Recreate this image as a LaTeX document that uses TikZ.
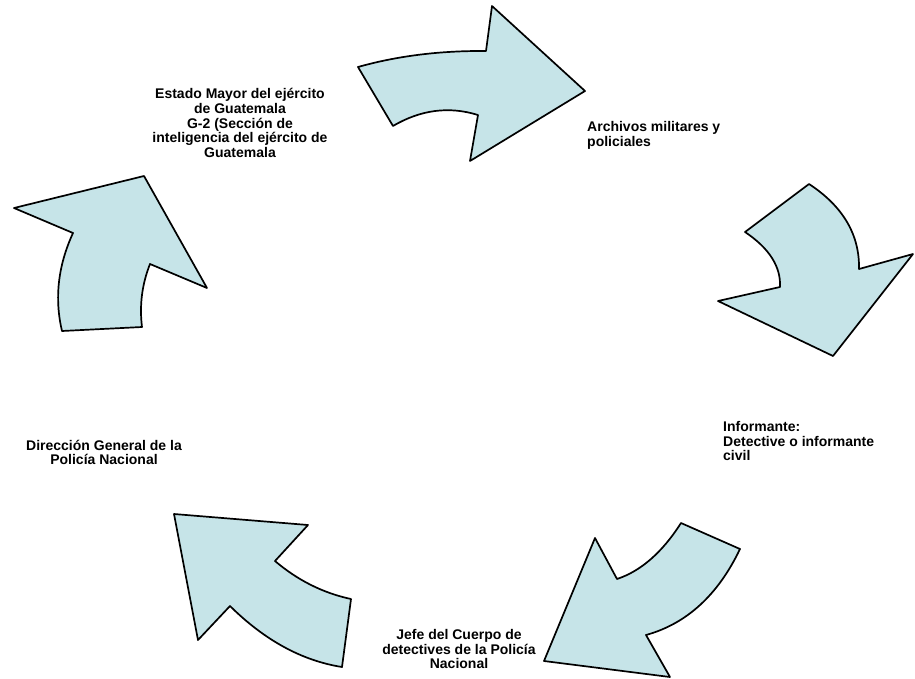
\documentclass[tikz,border=0pt]{standalone}
\usepackage{fontspec}
\setmainfont{Liberation Sans}
\definecolor{arrowfill}{RGB}{198,228,232}
\begin{document}
\begin{tikzpicture}[x=1pt,y=-1pt,
  bigarrow/.style={draw=black, fill=arrowfill, line width=1.7pt, line join=round},
  lbl/.style={inner sep=0pt, font=\bfseries\fontsize{14}{14.7}\selectfont}]
\useasboundingbox (0,0) rectangle (915,678);

% top arrow
\path[bigarrow] (358,67) -- (393,126) .. controls (420.7,109.7) and (449,106) .. (478,115)
  -- (470,161) -- (585,91) -- (492,6) -- (486,51)
  .. controls (440,50.6) and (397.3,55.9) .. cycle;

% right arrow
\path[bigarrow] (809,184) -- (745,232) .. controls (769.3,248.3) and (781,266.7) .. (780,287)
  -- (718,301) -- (833,356) -- (913,254) -- (859,269)
  .. controls (859.7,234.7) and (843,206.3) .. cycle;

% bottom-right arrow
\path[bigarrow] (681,523) -- (740,549) .. controls (718,595) and (686.7,623.7) .. (646,635)
  -- (670,677) -- (544,661) -- (595,538) -- (617,579)
  .. controls (641,571) and (662.3,552.3) .. cycle;

% bottom-left arrow
\path[bigarrow] (174,514) -- (308,525) -- (275,561)
  .. controls (297.7,580.3) and (323,593) .. (351,599)
  -- (342,667) .. controls (302,660.7) and (264.7,640.3) .. (230,606)
  -- (198,640) -- cycle;

% left arrow
\path[bigarrow] (144,176) -- (207,288) -- (150,264)
  .. controls (142,284.3) and (139.3,305.3) .. (142,327)
  -- (62,331) .. controls (54.3,298.3) and (58,265.7) .. (73,233)
  -- (14,208) -- cycle;

\node[lbl, align=center] (estado) at (240,123)
  {Estado Mayor del ejército\\de Guatemala\\G-2 (Sección de\\inteligencia del ejército de\\Guatemala};
\node[lbl, align=left, anchor=west] (archivos) at (587,135.5)
  {Archivos militares y\\policiales};
\node[lbl, align=left, anchor=west] (informante) at (723,441)
  {Informante:\\Detective o informante\\civil};
\node[lbl, align=center] (jefe) at (459,649)
  {Jefe del Cuerpo de\\detectives de la Policía\\Nacional};
\node[lbl, align=center] (direccion) at (104,452.5)
  {Dirección General de la\\Policía Nacional};
\end{tikzpicture}
\end{document}
